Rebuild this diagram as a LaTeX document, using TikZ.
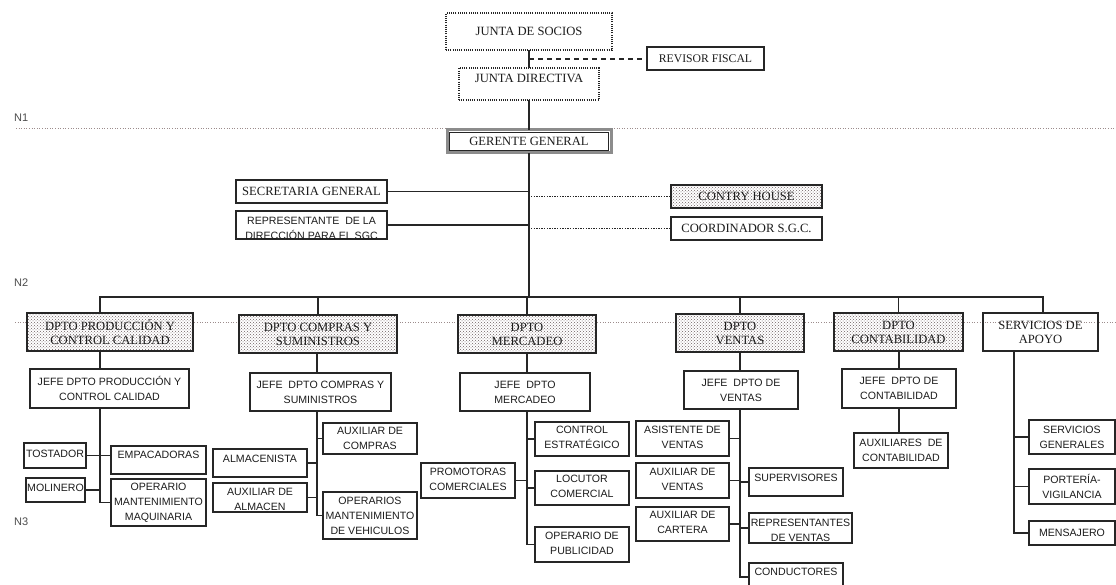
\documentclass[tikz,border=0pt]{standalone}
\usepackage{fontspec}
\setmainfont{Liberation Serif}
\setsansfont{Liberation Sans}
\usetikzlibrary{patterns,calc}
\definecolor{ln}{HTML}{262626}
\definecolor{tx}{HTML}{1C1C1C}
\definecolor{lvlc}{HTML}{9C8C8C}
\definecolor{dotc}{HTML}{6E6062}
\tikzset{
 bxs/.style={draw=ln, line width=1.8pt, fill=white, inner sep=0pt, outer sep=0pt},
 bxd/.style={draw=ln, line width=1.2pt, dash pattern=on 1pt off 1.2pt, fill=white, inner sep=0pt, outer sep=0pt},
 bxp/.style={draw=ln, line width=1.9pt, preaction={fill=white}, pattern=crosshatch dots, pattern color=dotc, inner sep=0pt, outer sep=0pt},
 bxo/.style={draw=ln, line width=1.8pt, inner sep=0pt, outer sep=0pt},
 bxg/.style={draw=black!45, line width=3pt, fill=white, inner sep=0pt, outer sep=0pt},
 ts/.style={font=\fontsize{12.6}{14}\selectfont, text=tx, align=center, inner sep=0pt},
 tsr/.style={font=\fontsize{11.7}{13}\selectfont, text=tx, align=center, inner sep=0pt},
 tsn/.style={font=\sffamily\fontsize{10.6}{15}\selectfont, text=tx, align=center, inner sep=0pt},
 conn/.style={draw=ln, line width=1.8pt},
 dotconn/.style={draw=ln, line width=0.8pt, dash pattern=on 1.3pt off 1.3pt},
 dashconn/.style={draw=ln, line width=1.3pt, dash pattern=on 5pt off 4pt},
 lvl/.style={draw=lvlc, line width=0.9pt, dash pattern=on 1pt off 1.6pt},
 lvltxt/.style={font=\sffamily\fontsize{11}{12}\selectfont, text=black!70, inner sep=0pt},
}
\newcommand\bx[9]{\node[#6, minimum width={(#4)-(#2)}, minimum height={(#5)-(#3)}, label={[#7,yshift=#8pt]center:{#9}}] (#1) at ({((#2)+(#4))/2},{((#3)+(#5))/2}) {};}
\begin{document}
\begin{tikzpicture}[x=1pt,y=-1pt]
\useasboundingbox (0,0) rectangle (1116,585);
% level lines
\draw[lvl] (16,128.5) -- (1116,128.5);
\draw[lvl] (15,322) -- (1116,322);
\node[lvltxt, anchor=west] (n1) at (14,118) {N1};
\node[lvltxt, anchor=west] (n2) at (14,283) {N2};
\node[lvltxt, anchor=west] (n3) at (14,522) {N3};
% top
\bx{js}{446}{13}{612}{50}{bxd}{ts}{0}{JUNTA DE SOCIOS}
\bx{rev}{647}{47}{764}{70}{bxs}{tsr}{0}{REVISOR FISCAL}
\bx{jd}{459}{68}{599}{100}{bxd}{ts}{6}{JUNTA DIRECTIVA}
\bx{gg}{447}{130}{611}{153}{bxg}{ts}{0}{GERENTE GENERAL}
\draw[line width=1.5pt, ln] ([xshift=2.6pt,yshift=-2.6pt]gg.north west) rectangle ([xshift=-2.6pt,yshift=2.6pt]gg.south east);
\bx{sec}{236}{180}{387}{203}{bxs}{ts}{0}{SECRETARIA GENERAL}
\bx{rep}{236}{211}{387}{239}{bxs}{tsn}{-3}{REPRESENTANTE\ \ DE LA\\DIRECCIÓN PARA EL SGC}
\bx{ch}{671}{185}{822}{208}{bxp}{ts}{0}{CONTRY HOUSE}
\bx{co}{671}{217}{822}{240}{bxs}{ts}{0}{COORDINADOR S.G.C.}
% departments
\bx{dp}{27}{313}{193}{351}{bxp}{ts}{0}{DPTO PRODUCCIÓN Y\\CONTROL CALIDAD}
\bx{dc}{239}{315}{397}{353}{bxp}{ts}{0}{DPTO COMPRAS Y\\SUMINISTROS}
\bx{dm}{458}{315}{596}{353}{bxp}{ts}{0}{DPTO\\MERCADEO}
\bx{dv}{676}{314}{804}{352}{bxp}{ts}{0}{DPTO\\VENTAS}
\bx{dk}{834}{313}{963}{351}{bxp}{ts}{0}{DPTO\\CONTABILIDAD}
\bx{ds}{983}{313}{1098}{351}{bxo}{ts}{0}{SERVICIOS DE\\APOYO}
% jefes
\bx{jp}{30}{369}{189}{408}{bxs}{tsn}{0}{JEFE DPTO PRODUCCIÓN Y\\CONTROL CALIDAD}
\bx{jc}{250}{373}{391}{411}{bxs}{tsn}{0}{JEFE\ \ DPTO COMPRAS Y\\SUMINISTROS}
\bx{jm}{460}{373}{590}{411}{bxs}{tsn}{0}{JEFE\ \ DPTO\\MERCADEO}
\bx{jv}{684}{371}{798}{409}{bxs}{tsn}{0}{JEFE\ \ DPTO DE\\VENTAS}
\bx{jk}{842}{369}{956}{408}{bxs}{tsn}{0}{JEFE\ \ DPTO DE\\CONTABILIDAD}
% production
\bx{tos}{24}{443}{86}{468}{bxs}{tsn}{1.5}{TOSTADOR}
\bx{mol}{26}{478}{85}{502}{bxs}{tsn}{2}{MOLINERO}
\bx{emp}{111}{446}{206}{474}{bxs}{tsn}{5}{EMPACADORAS}
\bx{opm}{111}{479}{206}{526}{bxs}{tsn}{0}{OPERARIO\\MANTENIMIENTO\\MAQUINARIA}
% compras
\bx{auc}{323}{423}{417}{454}{bxs}{tsn}{0}{AUXILIAR DE\\COMPRAS}
\bx{alm}{213}{449}{307}{477}{bxs}{tsn}{4}{ALMACENISTA}
\bx{aal}{213}{483}{307}{512}{bxs}{tsn}{-2}{AUXILIAR DE\\ALMACEN}
\bx{opv}{323}{492}{417}{539}{bxs}{tsn}{0}{OPERARIOS\\MANTENIMIENTO\\DE VEHICULOS}
% mercadeo
\bx{cte}{535}{422}{629}{456}{bxs}{tsn}{2}{CONTROL\\ESTRATÉGICO}
\bx{loc}{535}{471}{629}{505}{bxs}{tsn}{1.5}{LOCUTOR\\COMERCIAL}
\bx{opp}{535}{527}{629}{562}{bxs}{tsn}{1.5}{OPERARIO DE\\PUBLICIDAD}
\bx{pro}{421}{463}{515}{498}{bxs}{tsn}{1}{PROMOTORAS\\COMERCIALES}
% ventas
\bx{asv}{636}{421}{729}{456}{bxs}{tsn}{1}{ASISTENTE DE\\VENTAS}
\bx{axv}{636}{463}{729}{498}{bxs}{tsn}{1}{AUXILIAR DE\\VENTAS}
\bx{axc}{636}{507}{729}{541}{bxs}{tsn}{1.5}{AUXILIAR DE\\CARTERA}
\bx{sup}{749}{468}{843}{496}{bxs}{tsn}{4}{SUPERVISORES}
\bx{rpv}{749}{513}{852}{543}{bxs}{tsn}{-2}{REPRESENTANTES\\DE VENTAS}
\bx{cnd}{749}{563}{843}{591}{bxs}{tsn}{5}{CONDUCTORES}
% contabilidad
\bx{axk}{854}{433}{948}{468}{bxs}{tsn}{0}{AUXILIARES\ \ DE\\CONTABILIDAD}
% servicios
\bx{sg}{1029}{420}{1115}{454}{bxs}{tsn}{0}{SERVICIOS\\GENERALES}
\bx{pv}{1029}{469}{1115}{504}{bxs}{tsn}{0}{PORTERÍA-\\VIGILANCIA}
\bx{ms}{1029}{521}{1115}{545}{bxs}{tsn}{0}{MENSAJERO}
% column coordinates
\coordinate (bus) at (529,297);
\coordinate (c1) at (100,0);
\coordinate (c2) at (317,0);
\coordinate (c3) at (527,0);
\coordinate (c4) at (740,0);
\coordinate (c5) at (899,0);
\coordinate (c6t) at (1043,0);
\coordinate (c6) at (1014,0);
\coordinate (mid) at ($(js.south)!0.5!(jd.north)$);
% top connectors
\draw[conn] (js.south) -- (jd.north);
\draw[dashconn] (mid) -- (mid -| rev.west);
\draw[conn] (jd.south) -- (gg.north);
\draw[conn] (gg.south) -- (bus);
\draw[conn] (sec.east) -- (sec.east -| gg.south);
\draw[conn] (rep.east) -- (rep.east -| gg.south);
\draw[dotconn] ([xshift=2pt]ch.west -| gg.south) -- (ch.west);
\draw[dotconn] ([xshift=2pt]co.west -| gg.south) -- (co.west);
% bus
\draw[conn] (c1 |- dp.north) |- (bus) -| (c6t |- ds.north);
\draw[conn] (dc.north) -- (dc.north |- bus);
\draw[conn] (dm.north) -- (dm.north |- bus);
\draw[conn] (dv.north) -- (dv.north |- bus);
\draw[conn] (dk.north) -- (dk.north |- bus);
% dept to jefe
\draw[conn] (c1 |- dp.south) -- (c1 |- jp.north);
\draw[conn] (c2 |- dc.south) -- (c2 |- jc.north);
\draw[conn] (c3 |- dm.south) -- (c3 |- jm.north);
\draw[conn] (c4 |- dv.south) -- (c4 |- jv.north);
\draw[conn] (c5 |- dk.south) -- (c5 |- jk.north);
% production
\draw[conn] (c1 |- jp.south) |- (opm.west);
\draw[conn] (tos.east) -- (tos.east -| emp.west);
\draw[conn] (mol.east) -- (mol.east -| c1);
% compras
\draw[conn] (c2 |- jc.south) |- (opv.west);
\draw[conn] (auc.west) -- (auc.west -| c2);
\draw[conn] (alm.east) -- (alm.east -| c2);
\draw[conn] (aal.east) -- (aal.east -| c2);
% mercadeo
\draw[conn] (c3 |- jm.south) |- (opp.west);
\draw[conn] (cte.west) -- (cte.west -| c3);
\draw[conn] (loc.west) -- (loc.west -| c3);
\draw[conn] (pro.east) -- (pro.east -| c3);
% ventas
\draw[conn] (c4 |- jv.south) |- (cnd.west);
\draw[conn] (asv.east) -- (asv.east -| c4);
\draw[conn] (axv.east) -- (axv.east -| c4);
\draw[conn] (axc.east) -- (axc.east -| c4);
\draw[conn] (sup.west) -- (sup.west -| c4);
\draw[conn] (rpv.west) -- (rpv.west -| c4);
% contabilidad
\draw[conn] (c5 |- jk.south) -- (c5 |- axk.north);
% servicios
\draw[conn] (c6 |- ds.south) |- (ms.west);
\draw[conn] (sg.west) -- (sg.west -| c6);
\draw[conn] (pv.west) -- (pv.west -| c6);
\end{tikzpicture}
\end{document}
